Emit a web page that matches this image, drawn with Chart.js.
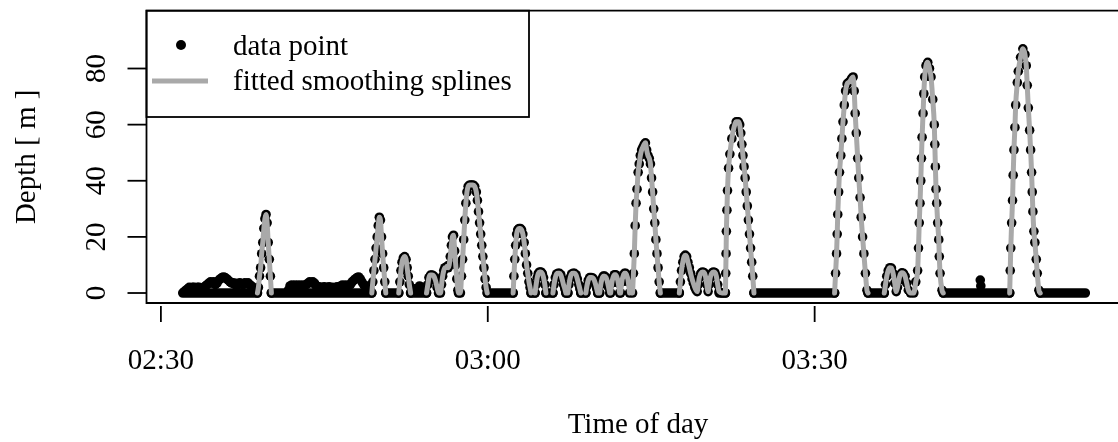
<!DOCTYPE html>
<html>
<head>
<meta charset="utf-8">
<script src="https://cdn.jsdelivr.net/npm/chart.js@4.4.1/dist/chart.umd.min.js"></script>
<style>
  html, body { margin: 0; padding: 0; background: #fff; }
  #wrap { width: 1118px; height: 442px; }
</style>
</head>
<body>
<div id="wrap"><canvas id="depthChart" width="1118" height="442"></canvas></div>
<script>
// ─── Data ─────────────────────────────────────────────────────────────────────
// time = minutes after 02:30, depth in metres
const TICK_MINUTES = [0, 30, 60];
const TICK_LABELS = ['02:30', '03:00', '03:30'];
const DEPTH_TICKS = [0, 20, 40, 60, 80];

// logged samples that belong to a dive; null closes one fitted spline piece
const diveSamples = [
    [8.86,0],[8.95,2],[9.05,6],[9.15,9],[9.25,14],[9.35,18],[9.45,23],[9.55,26.5],[9.65,28],[9.75,25],[9.85,18],[9.95,12],[10.05,6],[10.14,0],
    null,
    [19.36,0],[19.45,4],[19.55,8],[19.65,12],[19.75,16],[19.85,20],[19.95,24],[20.05,27],[20.15,26],[20.25,20],[20.35,14],[20.45,9],[20.55,4],[20.64,0],
    null,
    [21.83,0],[21.93,4],[22.03,8],[22.13,11],[22.25,12.5],[22.37,13],[22.5,12],[22.6,9],[22.7,6],[22.8,3],[22.92,0],
    null,
    [24.38,0],[24.5,3],[24.6,5.5],[24.75,6.4],[24.9,6.4],[25.05,6],[25.2,4.5],[25.35,2],[25.48,0],
    [25.66,0],[25.76,3],[25.86,6],[25.96,8],[26.06,9],[26.16,9],[26.26,9.5],[26.36,9],[26.46,10],[26.56,13],[26.66,17],[26.76,20],[26.86,20.6],[26.96,15],[27.06,10],[27.16,5],[27.26,1],[27.31,0],
    [27.49,0],[27.59,6],[27.69,12],[27.79,19],[27.89,26],[27.99,32],[28.09,36],[28.2,38],[28.35,38.5],[28.5,38.5],[28.65,38.5],[28.8,38],[28.95,36],[29.05,33],[29.15,29],[29.25,25],[29.35,21],[29.45,17],[29.55,13],[29.65,9],[29.75,5],[29.85,2],[29.95,0],
    null,
    [32.33,0],[32.4,6],[32.48,12],[32.56,17],[32.65,21],[32.75,22.5],[32.87,23],[32.99,23],[33.1,22.5],[33.22,21],[33.34,18],[33.45,14],[33.56,10],[33.67,7],[33.78,4],[33.88,2],[33.97,0],
    null,
    [34.34,0],[34.44,3],[34.54,5.5],[34.64,7],[34.76,7.5],[34.88,7.5],[35.0,7],[35.12,5.5],[35.24,3],[35.34,0],
    null,
    [35.98,0],[36.08,3],[36.2,5.5],[36.32,6.8],[36.45,7],[36.58,7],[36.7,6.5],[36.82,5],[36.95,3],[37.07,1.5],[37.17,0],
    null,
    [37.35,0],[37.45,3],[37.57,5.5],[37.7,6.8],[37.83,7],[37.96,7],[38.1,6.5],[38.22,5],[38.35,3],[38.45,1.5],[38.54,0],
    null,
    [39.0,0],[39.1,2.5],[39.22,4.5],[39.35,5.5],[39.5,5.5],[39.65,5.3],[39.78,4.5],[39.9,3],[40.0,1.5],[40.09,0],
    null,
    [40.27,0],[40.37,3],[40.48,5],[40.6,6],[40.73,6],[40.86,5.5],[40.98,4],[41.09,2],[41.19,0],
    null,
    [41.28,0],[41.38,3.5],[41.5,5.5],[41.62,6.5],[41.74,6.5],[41.86,5.5],[41.98,3.5],[42.1,0],
    null,
    [42.19,0],[42.3,4],[42.42,6],[42.54,7],[42.66,7],[42.78,6],[42.9,4],[43.01,0],
    null,
    [43.29,0],[43.37,7],[43.45,14],[43.53,24],[43.61,32],[43.7,37],[43.8,43],[43.9,46],[44.0,49],[44.12,51],[44.24,52],[44.36,53],[44.47,53.5],[44.58,51],[44.7,49],[44.82,48],[44.93,46],[45.03,41],[45.13,36],[45.23,30],[45.33,25],[45.43,19],[45.53,14],[45.63,9],[45.73,4],[45.84,0],
    null,
    [47.58,0],[47.68,4],[47.78,8],[47.9,11],[48.02,13],[48.13,13.5],[48.25,13],[48.37,11],[48.5,9],[48.62,7],[48.75,5],[48.87,3.5],[49.0,2],[49.12,1],[49.22,0.5],
    [49.32,3],[49.42,5.5],[49.55,7],[49.7,7.5],[49.85,7.3],[49.98,6],[50.1,3],[50.22,0.5],
    [50.32,3],[50.42,5.5],[50.55,7],[50.7,7.5],[50.85,7.3],[50.98,6],[51.1,3],[51.23,0.5],[51.5,0],
    [51.81,0],[51.84,7],[51.87,14],[51.9,22],[51.95,29.5],[52.0,36.5],[52.1,44.5],[52.22,49.5],[52.4,55],[52.6,59],[52.8,61],[53.0,61],[53.12,60],[53.22,57],[53.32,53],[53.42,49],[53.52,45],[53.62,41],[53.72,36],[53.82,31],[53.92,26],[54.02,21],[54.12,16],[54.22,11],[54.32,6],[54.43,0],
    null,
    [61.83,0],[61.92,7],[62.01,14],[62.07,21],[62.12,28],[62.2,36],[62.28,43],[62.4,49],[62.5,55],[62.6,61],[62.72,67],[62.84,72],[62.98,74.5],[63.1,75],[63.25,75.5],[63.4,76.5],[63.53,77],[63.63,72],[63.72,64],[63.82,57],[63.95,48],[64.05,41],[64.17,34],[64.27,27],[64.4,20],[64.52,14],[64.66,7],[64.8,1],[64.9,0],
    null,
    [66.39,0],[66.5,3],[66.62,6],[66.75,8],[66.9,9],[67.05,8.9],[67.2,7],[67.35,3.5],[67.49,0.5],
    [67.6,2],[67.72,4.5],[67.85,6.5],[68.0,7.2],[68.15,7],[68.3,6],[68.45,3.5],[68.6,1],[68.8,0],
    [69.1,0],[69.28,4],[69.45,8],[69.53,16],[69.6,25],[69.67,32],[69.74,40],[69.8,48],[69.86,55.5],[69.95,64],[70.02,71],[70.1,77],[70.22,81],[70.38,82.2],[70.54,80],[70.68,77],[70.84,69],[70.98,60],[71.03,53],[71.08,45],[71.14,37],[71.2,32],[71.29,25],[71.39,19],[71.44,13],[71.51,7],[71.69,1],[71.8,0],
    null,
    [77.9,0],[77.95,8],[78.0,16],[78.08,25],[78.16,33],[78.22,42],[78.29,51],[78.38,59],[78.45,67],[78.6,75],[78.69,79],[78.9,84],[79.11,87],[79.3,85],[79.42,81],[79.51,74],[79.61,66],[79.73,58],[79.82,51],[79.91,43],[79.97,36],[80.03,29],[80.12,22],[80.21,18],[80.34,12],[80.43,7],[80.58,1],[80.7,0]
];

// shallow samples with no spline fitted
const shallowSamples = [
    [2.15,0.5],[2.3,1],[2.45,1.5],[2.6,2],[2.75,1.5],[2.9,2],[3.05,2],[3.2,1.5],[3.35,2],[3.5,2],[3.65,1.8],[3.8,1.5],[3.95,2],
    [4.1,2.5],[4.25,3],[4.4,3.5],[4.55,4],[4.7,3.5],[4.85,4],[5.0,3],[5.15,3.5],[5.3,4.5],[5.45,5],[5.6,5.5],[5.75,5.7],[5.9,5.5],
    [6.05,5],[6.2,4.5],[6.35,4],[6.5,3.5],[6.65,3.6],[6.8,3],[6.95,3.5],[7.1,3],[7.25,3.6],[7.4,3.2],[7.55,3],[7.7,3.6],[7.85,3.3],
    [8.0,3.6],[8.15,3],[8.3,2.5],[8.45,2],[8.6,1.5],
    [11.7,1],[11.85,2.5],[12.0,2.8],[12.15,2.5],[12.3,2.8],[12.45,2.5],[12.6,2.8],[12.75,2.2],[12.9,2.8],[13.05,2.5],[13.2,2.8],
    [13.35,3],[13.5,3.5],[13.65,4],[13.8,3.6],[13.95,4],[14.1,3.5],[14.25,2.5],[14.4,2],[14.55,2.2],[14.7,1.8],[14.85,2],[15.0,2.2],
    [15.15,1.8],[15.3,2],[15.45,2.2],[15.6,1.8],[15.75,2],[15.9,1.5],[16.05,2],[16.2,2.2],[16.35,2],[16.5,2.5],[16.65,2.8],[16.8,2.5],
    [16.95,2.8],[17.1,2.5],[17.25,2.8],[17.4,3],[17.55,4],[17.7,4.5],[17.85,5],[18.0,5.5],[18.15,5.7],[18.3,5],[18.45,4],[18.6,3],
    [18.75,2.5],[18.9,2.5],[19.05,2],[19.2,1],
    [23.29,1.5],[23.74,2.5],[24.11,2],
    [75.2,4.6],[75.25,2.5]
];

// stretches spent at the surface, where the 0 m samples merge into one band
const surfaceStretches = [
    [2.01, 8.86], [10.14, 19.36], [20.64, 21.83], [22.92, 24.38], [29.95, 32.33],
    [33.97, 34.34], [35.34, 35.98], [37.17, 37.35], [38.54, 39.0], [40.09, 40.27],
    [45.84, 47.58], [51.23, 51.81], [54.43, 61.83], [64.9, 66.39], [71.8, 77.9], [80.7, 84.84]
];

// ─── Look ─────────────────────────────────────────────────────────────────────
const FONT = '29px "Liberation Serif", "Times New Roman", serif';
const SPLINE_GREY = '#a9a9a9';
const X_MIN = -1.32, X_MAX = 87.4;
const Y_MIN = -3.56, Y_MAX = 100.6;

// ─── Build datasets ───────────────────────────────────────────────────────────
const toPoint = s => s ? { x: s[0], y: s[1] } : { x: null, y: null };

const dotPoints = diveSamples.filter(Boolean).concat(shallowSamples).map(toPoint);
const splinePoints = diveSamples.map(toPoint);
const surfacePoints = [];
surfaceStretches.forEach(([from, to]) => {
    surfacePoints.push({ x: from, y: 0 }, { x: to, y: 0 }, { x: null, y: null });
});

// ─── R-style frame, axes and legend ───────────────────────────────────────────
const baseGraphics = {
    id: 'baseGraphics',
    afterDraw(chart) {
        const { ctx, chartArea: a, scales: { x, y } } = chart;
        ctx.save();
        ctx.strokeStyle = '#000';
        ctx.fillStyle = '#000';
        ctx.lineWidth = 1.8;

        // plot frame, the right side lies past the canvas edge
        ctx.beginPath();
        ctx.moveTo(chart.width + 5, a.top);
        ctx.lineTo(a.left, a.top);
        ctx.lineTo(a.left, a.bottom);
        ctx.lineTo(chart.width + 5, a.bottom);
        ctx.stroke();

        ctx.font = FONT;
        ctx.textAlign = 'center';
        ctx.textBaseline = 'alphabetic';

        // y axis
        DEPTH_TICKS.forEach(v => {
            const py = y.getPixelForValue(v);
            ctx.beginPath();
            ctx.moveTo(a.left - 19, py);
            ctx.lineTo(a.left, py);
            ctx.stroke();
            ctx.save();
            ctx.translate(105, py);
            ctx.rotate(-Math.PI / 2);
            ctx.fillText(String(v), 0, 0);
            ctx.restore();
        });

        // x axis
        TICK_MINUTES.forEach((m, i) => {
            const px = x.getPixelForValue(m);
            ctx.beginPath();
            ctx.moveTo(px, a.bottom + 3);
            ctx.lineTo(px, a.bottom + 19);
            ctx.stroke();
            ctx.fillText(TICK_LABELS[i], px, 369);
        });

        // axis titles
        ctx.fillText('Time of day', 638, 433);
        ctx.save();
        ctx.translate(35, (a.top + a.bottom) / 2);
        ctx.rotate(-Math.PI / 2);
        ctx.fillText('Depth [ m ]', 0, 0);
        ctx.restore();

        // legend
        ctx.lineWidth = 1.8;
        ctx.strokeRect(a.left, a.top, 529 - a.left, 117 - a.top);
        ctx.beginPath();
        ctx.arc(181, 45, 5, 0, Math.PI * 2);
        ctx.fill();
        ctx.strokeStyle = SPLINE_GREY;
        ctx.lineWidth = 5;
        ctx.beginPath();
        ctx.moveTo(152, 81);
        ctx.lineTo(208, 81);
        ctx.stroke();
        ctx.textAlign = 'left';
        ctx.fillText('data point', 233, 55);
        ctx.fillText('fitted smoothing splines', 233, 90);
        ctx.restore();
    }
};

// ─── Chart ────────────────────────────────────────────────────────────────────
function init() {
    new Chart(document.getElementById('depthChart'), {
        type: 'scatter',
        data: {
            datasets: [
                {
                    label: 'fitted smoothing splines',
                    data: splinePoints,
                    showLine: true,
                    spanGaps: false,
                    cubicInterpolationMode: 'monotone',
                    borderColor: SPLINE_GREY,
                    borderWidth: 5,
                    borderCapStyle: 'round',
                    borderJoinStyle: 'round',
                    pointRadius: 0,
                    order: 0
                },
                {
                    label: 'data point',
                    data: dotPoints,
                    backgroundColor: '#000',
                    borderWidth: 0,
                    pointRadius: 4.8,
                    order: 1
                },
                {
                    label: 'surface',
                    data: surfacePoints,
                    showLine: true,
                    spanGaps: false,
                    borderColor: '#000',
                    borderWidth: 9.6,
                    borderCapStyle: 'round',
                    pointRadius: 0,
                    order: 2
                }
            ]
        },
        options: {
            responsive: false,
            animation: false,
            events: [],
            layout: { padding: { left: 146.5, top: 10.7, right: 0, bottom: 139 } },
            plugins: { legend: { display: false }, tooltip: { enabled: false } },
            scales: {
                x: { type: 'linear', display: false, min: X_MIN, max: X_MAX },
                y: { type: 'linear', display: false, min: Y_MIN, max: Y_MAX }
            }
        },
        plugins: [baseGraphics]
    });
}

if (document.fonts && document.fonts.load) {
    document.fonts.load(FONT).then(init, init);
} else {
    init();
}
</script>
</body>
</html>
